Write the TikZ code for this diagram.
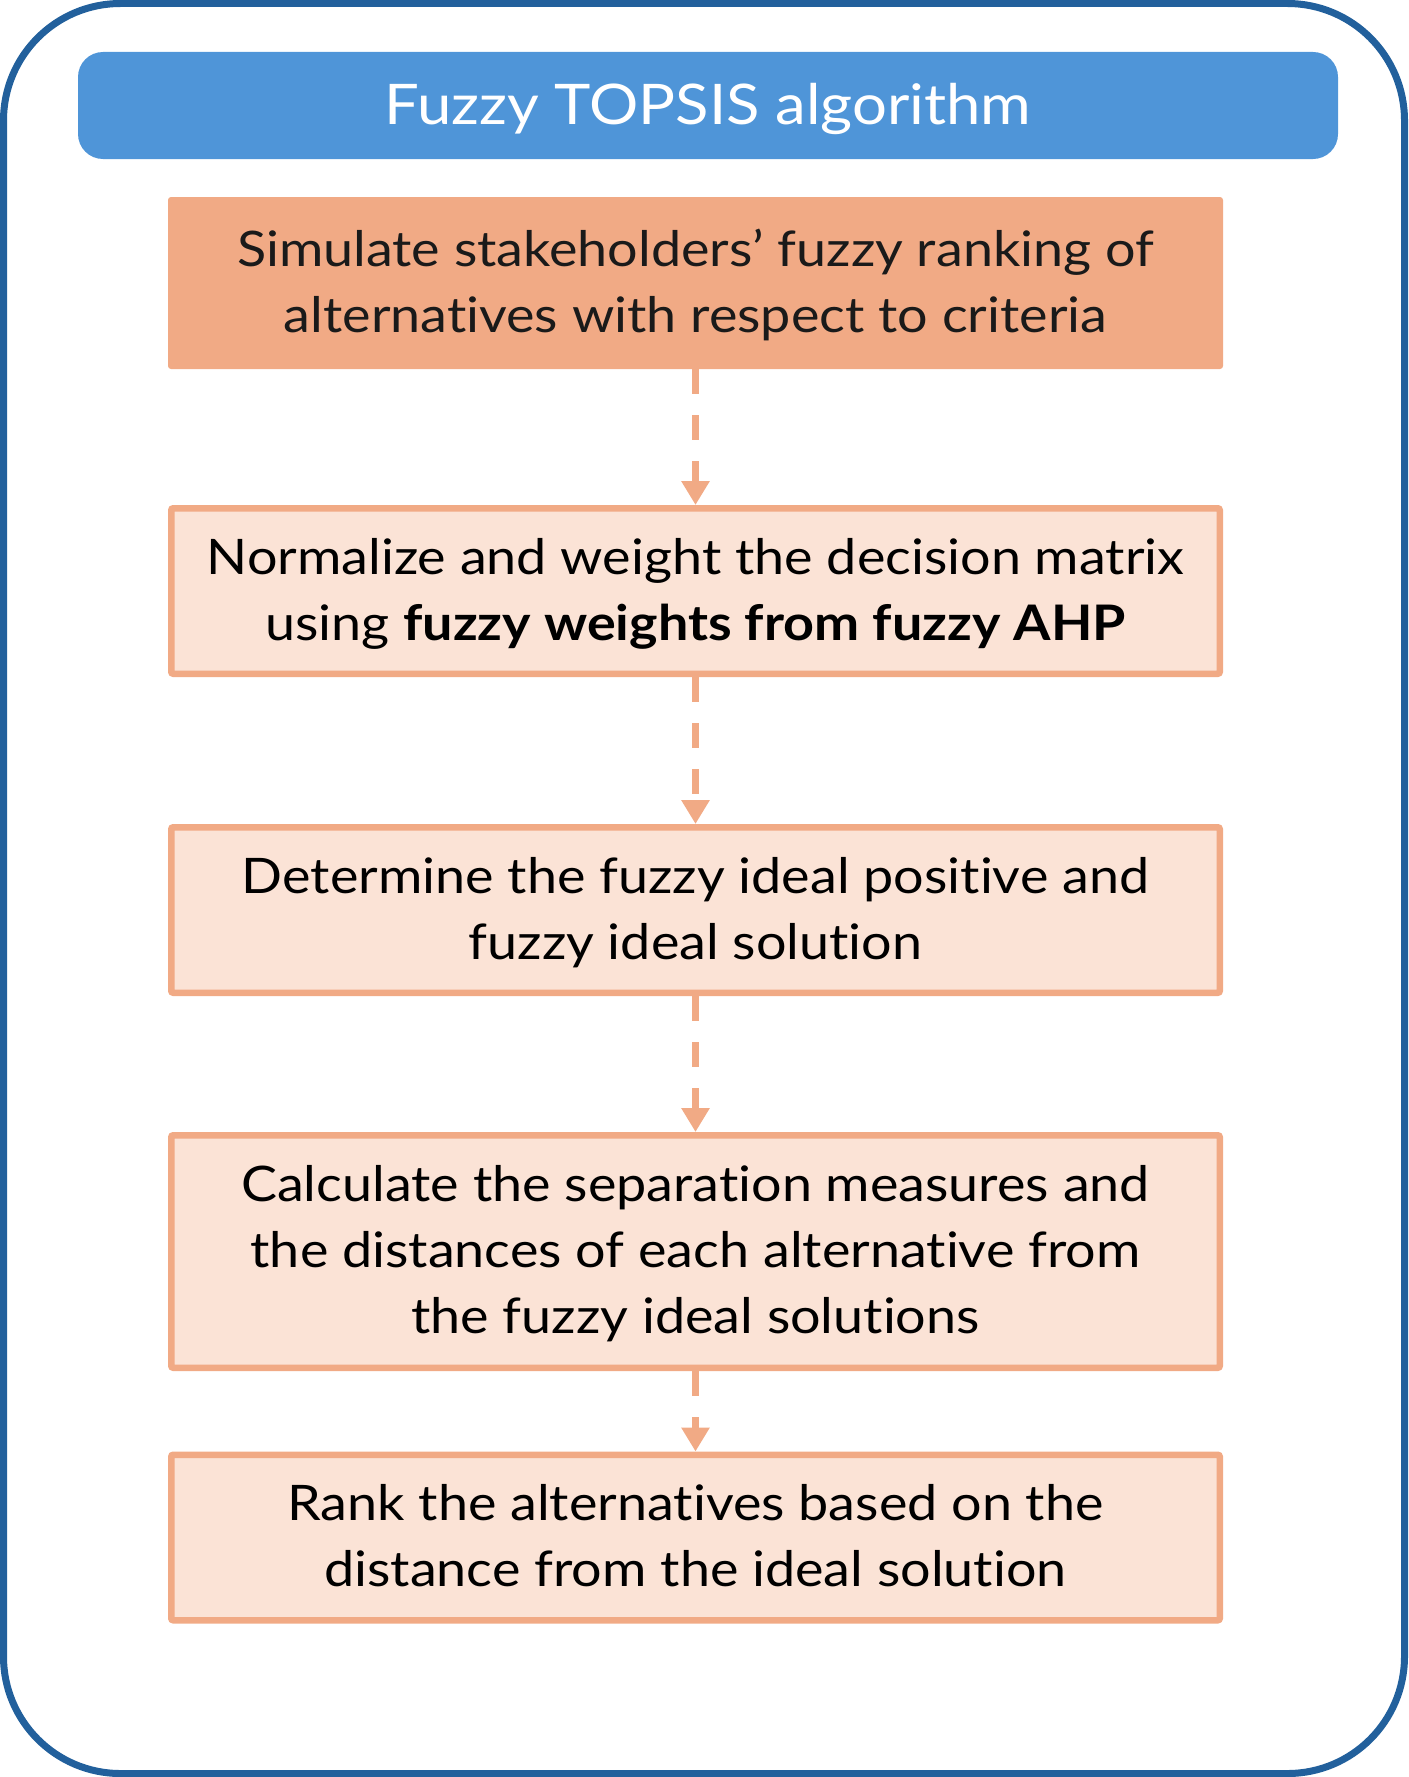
\documentclass[tikz,border=0pt]{standalone}
\usepackage{fontspec}
\setmainfont{Lato}[FakeStretch=1.1, Ligatures=NoCommon]
\usetikzlibrary{arrows.meta}
\definecolor{frameblue}{HTML}{22609C}
\definecolor{titleblue}{HTML}{4F95D8}
\definecolor{peach}{HTML}{F1AA85}
\definecolor{peachlight}{HTML}{FBE3D6}
\definecolor{inkblack}{HTML}{1A1A1A}
% centred lines on a fixed 66pt grid, lowered by #1 without changing the box size
\newcommand\steplines[2]{\raisebox{#1}[\height][\depth]{\begin{tabular}{@{}c@{}}#2\end{tabular}}}
\tikzset{
  titlebox/.style={fill=titleblue, rounded corners=25pt, inner sep=0pt,
    minimum width=1260pt, minimum height=107pt, text=white,
    font=\fontsize{56}{66}\selectfont},
  keybox/.style={fill=peach, rounded corners=3pt, inner sep=0pt,
    minimum width=1055pt, minimum height=172pt,
    text=inkblack, font=\fontsize{49}{66}\selectfont},
  stepbox/.style={draw=peach, line width=6.5pt, fill=peachlight,
    rounded corners=2pt, inner sep=0pt, minimum width=1048.5pt,
    minimum height=165.5pt, text=black,
    font=\fontsize{49}{66}\selectfont},
  flow/.style={draw=peach, line width=7pt, dash pattern=on 25pt off 21pt,
    -{Triangle[width=27pt,length=24pt]}}
}
\begin{document}
\begin{tikzpicture}[x=1pt, y=-1pt]
  \useasboundingbox (0,0) rectangle (1408,1777);
  % outer frame
  \draw[frameblue, line width=7pt, rounded corners=117pt]
    (3.5,3.5) rectangle (1404.5,1773.5);
  % heading
  \node[titlebox] (title) at (708,105.5)
    {\raisebox{-3.5pt}[\height][\depth]{Fuzzy TOPSIS algorithm}};
  % steps of the procedure
  \node[keybox] (s1) at (695.5,283)
    {\steplines{-3pt}{Simulate stakeholders’ fuzzy ranking of\\alternatives with respect to criteria}};
  \node[stepbox] (s2) at (695.5,591)
    {\steplines{-3pt}{Normalize and weight the decision matrix\\using \textbf{fuzzy weights from fuzzy AHP}}};
  \node[stepbox] (s3) at (695.5,910)
    {\steplines{-3pt}{Determine the fuzzy ideal positive and\\fuzzy ideal solution}};
  \node[stepbox, minimum height=232.5pt] (s4) at (695.5,1251.5)
    {\steplines{-3pt}{Calculate the separation measures and\\the distances of each alternative from\\the fuzzy ideal solutions}};
  \node[stepbox] (s5) at (695.5,1537.5)
    {\steplines{-3pt}{Rank the alternatives based on the\\distance from the ideal solution}};
  % connectors
  \draw[flow] (s1.south) -- (s2.north);
  \draw[flow] (s2.south) -- (s3.north);
  \draw[flow] (s3.south) -- (s4.north);
  \draw[flow] (s4.south) -- (s5.north);
\end{tikzpicture}
\end{document}
